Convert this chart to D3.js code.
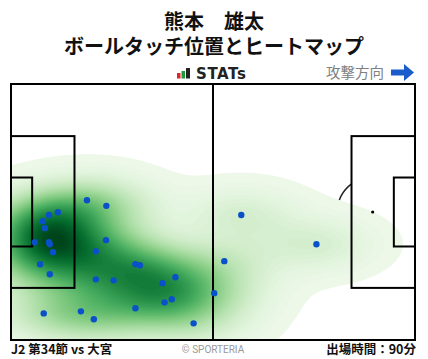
<!DOCTYPE html>
<html>
<head>
<meta charset="utf-8">
<script src="https://d3js.org/d3.v7.min.js"></script>
<style>
  body {margin: 0; background: #fff; font-family: "Noto Sans CJK JP", "Noto Sans", sans-serif;}
  svg {display: block;}
</style>
</head>
<body>
<svg width="428" height="359"></svg>
<script>
// header / footer texts
const playerName = "熊本　雄太";
const chartTitle = "ボールタッチ位置とヒートマップ";
const directionLabel = "攻撃方向";
const matchLabel = "J2 第34節 vs 大宮";
const creditLabel = "© SPORTERIA";
const minutesLabel = "出場時間：90分";

// ball touches in pitch percent (x: 0 own goal -> 100 attacking goal, y: 0 top -> 100 bottom)
const touchX = [18.8, 23.6, 11.6, 9.4, 7.9, 8.4, 5.9, 9.4, 9.6, 10.4,
                23.5, 21.0, 7.2, 9.6, 30.8, 31.9, 21.0, 25.4, 37.5, 40.7,
                39.8, 38.0, 30.8, 8.1, 17.3, 20.5, 45.2, 50.3, 57.0, 52.8, 75.6];
const touchY = [45.4, 47.6, 50.1, 51.2, 53.6, 56.3, 61.8, 61.8, 62.6, 65.7,
                61.0, 65.3, 70.4, 74.3, 70.4, 70.8, 76.3, 76.7, 77.8, 75.5,
                84.1, 85.3, 87.6, 89.6, 88.8, 91.9, 93.5, 81.7, 51.2, 69.2, 62.6];

// pitch size in metres, for the markings
const pitchLength = 105, pitchWidth = 68;

const svg = d3.select("svg");
const pLeft = 11, pRight = 415, pTop = 84, pBottom = 340;

const xm = d3.scaleLinear().domain([0, pitchLength]).range([pLeft, pRight]);
const ym = d3.scaleLinear().domain([0, pitchWidth]).range([pTop, pBottom]);
const xp = d3.scaleLinear().domain([0, 100]).range([pLeft, pRight]);
const yp = d3.scaleLinear().domain([0, 100]).range([pTop, pBottom]);

// titles
svg.append("text").attr("x", 214).attr("y", 29).attr("text-anchor", "middle")
  .attr("font-size", 20).attr("font-weight", "bold").attr("fill", "#111").text(playerName);
svg.append("text").attr("x", 214).attr("y", 54).attr("text-anchor", "middle")
  .attr("font-size", 20).attr("font-weight", "bold").attr("fill", "#111").text(chartTitle);

// STATs logo
const logo = svg.append("g");
logo.append("rect").attr("x", 177).attr("y", 73).attr("width", 3.5).attr("height", 5.5).attr("fill", "#e0262b");
logo.append("rect").attr("x", 181.5).attr("y", 71).attr("width", 3.5).attr("height", 7.5).attr("fill", "#1e9a3c");
logo.append("rect").attr("x", 186).attr("y", 68).attr("width", 4).attr("height", 10.5).attr("fill", "#222");
logo.append("text").attr("x", 196).attr("y", 78.5).attr("font-family", "DejaVu Sans")
  .attr("font-size", 15).attr("font-weight", "bold").attr("letter-spacing", 0.6)
  .attr("fill", "#222").text("STATs");

// attack direction
svg.append("text").attr("x", 384).attr("y", 78).attr("text-anchor", "end")
  .attr("font-size", 14.5).attr("fill", "#808080").text(directionLabel);
svg.append("path").attr("fill", "#1b5ccc")
  .attr("d", "M391,69.5 L404,69.5 L404,64 L414,72.5 L404,81 L404,75.5 L391,75.5 Z");

// pitch arcs (drawn under the heatmap)
const spotDist = 11, arcR = 9.15, boxDepth = 16.5, boxWidth = 40.32, goalDepth = 5.5, goalWidth = 18.32;
const a = Math.acos((boxDepth - spotDist) / arcR);
const rpx = xm(arcR) - xm(0);
[[xm(spotDist), 0], [xm(pitchLength - spotDist), Math.PI]].forEach(([cx, base]) => {
  const p = d3.path();
  p.arc(cx, ym(pitchWidth / 2), rpx, base - a, base + a);
  svg.append("path").attr("d", p.toString()).attr("fill", "none")
    .attr("stroke", "#222").attr("stroke-width", 1.5);
});

// heatmap: product gaussian kde, scott bandwidth per axis, linear levels
const pts = touchX.map((x, i) => [xp(x), yp(touchY[i])]);
const n = pts.length;
function scottBw(vals) {
  const s = d3.sort(vals);
  const iqr = (d3.quantileSorted(s, 0.75) - d3.quantileSorted(s, 0.25)) / 1.349;
  return 1.059 * Math.min(d3.deviation(s), iqr) * Math.pow(n, -0.2);
}
const bx = scottBw(pts.map(d => d[0])), by = scottBw(pts.map(d => d[1]));

const step = 2;
const cols = Math.ceil((pRight - pLeft) / step), rows = Math.ceil((pBottom - pTop) / step);
const grid = new Float64Array(cols * rows);
for (let j = 0; j < rows; j++) {
  for (let i = 0; i < cols; i++) {
    const gx = pLeft + (i + 0.5) * step, gy = pTop + (j + 0.5) * step;
    let s = 0;
    for (const [x, y] of pts) {
      const dx = (gx - x) / bx, dy = (gy - y) / by;
      s += Math.exp(-0.5 * (dx * dx + dy * dy));
    }
    grid[j * cols + i] = s;
  }
}
const gmax = d3.max(grid);
const nLevels = 60, lo = 0.01;
const thresholds = d3.range(nLevels).map(k => gmax * (lo + (1 - lo) * k / nLevels));
const contours = d3.contours().size([cols, rows]).thresholds(thresholds)(grid);
const color = k => d3.interpolateGreens(0.07 + 0.93 * k / (nLevels - 1));

svg.append("clipPath").attr("id", "pitch-clip").append("rect")
  .attr("x", pLeft).attr("y", pTop).attr("width", pRight - pLeft).attr("height", pBottom - pTop);
svg.append("g").attr("clip-path", "url(#pitch-clip)")
  .selectAll("path").data(contours).join("path")
  .attr("d", d3.geoPath(d3.geoIdentity().scale(step).translate([pLeft, pTop])))
  .attr("fill", (d, k) => color(k));

// pitch lines
const lines = svg.append("g").attr("fill", "none").attr("stroke", "#000").attr("stroke-width", 2);
lines.append("rect").attr("x", pLeft).attr("y", pTop).attr("width", pRight - pLeft).attr("height", pBottom - pTop);
lines.append("line").attr("x1", xm(pitchLength / 2)).attr("x2", xm(pitchLength / 2)).attr("y1", pTop).attr("y2", pBottom);
[[0, boxDepth, boxWidth], [0, goalDepth, goalWidth],
 [pitchLength - boxDepth, boxDepth, boxWidth], [pitchLength - goalDepth, goalDepth, goalWidth]]
  .forEach(([x0, w, h]) => {
    lines.append("rect").attr("x", xm(x0)).attr("y", ym((pitchWidth - h) / 2))
      .attr("width", xm(w) - xm(0)).attr("height", ym(h) - ym(0));
  });
svg.append("circle").attr("cx", xm(pitchLength - spotDist)).attr("cy", ym(pitchWidth / 2))
  .attr("r", 1.6).attr("fill", "#000");

// touches
svg.append("g").selectAll("circle").data(pts).join("circle")
  .attr("cx", d => d[0]).attr("cy", d => d[1]).attr("r", 3.2).attr("fill", "#0a50c8");

// footer
svg.append("text").attr("x", 11).attr("y", 354).attr("font-size", 12.5)
  .attr("font-weight", "bold").attr("fill", "#111").text(matchLabel);
svg.append("text").attr("x", 213).attr("y", 353).attr("text-anchor", "middle")
  .attr("font-family", "Roboto").attr("font-size", 10).attr("fill", "#999").text(creditLabel);
svg.append("text").attr("x", 416).attr("y", 354).attr("text-anchor", "end").attr("font-size", 12.5)
  .attr("font-weight", "bold").attr("fill", "#111").text(minutesLabel);
</script>
</body>
</html>
